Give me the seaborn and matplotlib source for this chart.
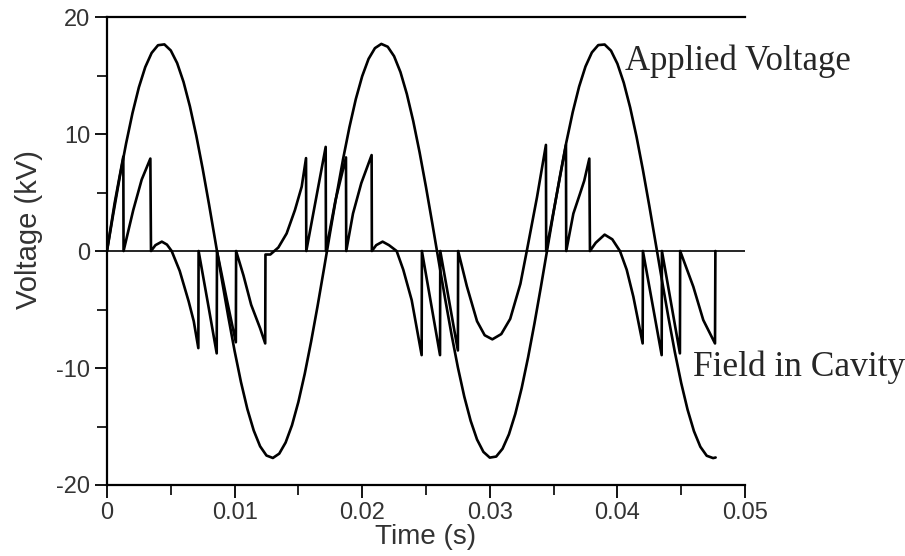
import matplotlib
matplotlib.use("Agg")
import matplotlib.pyplot as plt
import seaborn as sns
import pandas as pd
from matplotlib.ticker import MultipleLocator

# ---------------- data ----------------
applied_t = [0.0, 0.0005, 0.001, 0.0015, 0.002, 0.0025, 0.003, 0.0035, 0.004, 0.0045,
             0.005, 0.0055, 0.006, 0.0065, 0.007, 0.0075, 0.008, 0.0085, 0.009, 0.0095,
             0.010, 0.0105, 0.011, 0.0115, 0.012, 0.0125, 0.013, 0.0135, 0.014, 0.0145,
             0.015, 0.0155, 0.016, 0.0165, 0.017, 0.0175, 0.018, 0.0185, 0.019, 0.0195,
             0.020, 0.0205, 0.021, 0.0215, 0.022, 0.0225, 0.023, 0.0235, 0.024, 0.0245,
             0.025, 0.0255, 0.026, 0.0265, 0.027, 0.0275, 0.028, 0.0285, 0.029, 0.0295,
             0.030, 0.0305, 0.031, 0.0315, 0.032, 0.0325, 0.033, 0.0335, 0.034, 0.0345,
             0.035, 0.0355, 0.036, 0.0365, 0.037, 0.0375, 0.038, 0.0385, 0.039, 0.0395,
             0.040, 0.0405, 0.041, 0.0415, 0.042, 0.0425, 0.043, 0.0435, 0.044, 0.0445,
             0.045, 0.0455, 0.046, 0.0465, 0.047, 0.0475, 0.0477]
applied_v = [0.0, 3.21, 6.31, 9.20, 11.79, 13.99, 15.72, 16.93, 17.59, 17.66,
             17.14, 16.06, 14.45, 12.36, 9.86, 7.03, 3.97, 0.78, -2.44, -5.58,
             -8.53, -11.20, -13.50, -15.34, -16.69, -17.48, -17.69, -17.32, -16.37, -14.89,
             -12.90, -10.49, -7.73, -4.73, -1.56, 1.67, 4.83, 7.84, 10.58, 12.98,
             14.94, 16.42, 17.34, 17.70, 17.46, 16.65, 15.29, 13.42, 11.11, 8.43,
             5.47, 2.33, -0.89, -4.08, -7.13, -9.95, -12.44, -14.51, -16.11, -17.17,
             -17.66, -17.57, -16.90, -15.67, -13.92, -11.71, -9.10, -6.20, -3.10, 0.11,
             3.32, 6.41, 9.30, 11.87, 14.05, 15.77, 16.97, 17.60, 17.65, 17.12,
             16.01, 14.38, 12.27, 9.77, 6.93, 3.86, 0.67, -2.55, -5.68, -8.63,
             -11.28, -13.56, -15.40, -16.73, -17.50, -17.70, -17.65]

field_t = [0.0, 0.0006, 0.00128, 0.0013,
           0.00206, 0.00272, 0.0034, 0.00345,
           0.0038, 0.0043, 0.0047, 0.00507, 0.0057, 0.0064, 0.0068, 0.00716, 0.00718,
           0.0079, 0.0086, 0.00862,
           0.0094, 0.0101, 0.01012,
           0.0107, 0.0113, 0.0120, 0.0124, 0.01242,
           0.0128, 0.01343, 0.01408, 0.01473, 0.01526, 0.0156, 0.01562,
           0.01714, 0.01716,
           0.0179, 0.01873, 0.01875,
           0.01928, 0.01993, 0.02074, 0.02076,
           0.0211, 0.0216, 0.0221, 0.0227, 0.02322, 0.02388, 0.02466, 0.02468,
           0.0261, 0.02612,
           0.0275, 0.02752,
           0.0282, 0.0290, 0.0296, 0.0302, 0.0309, 0.0316, 0.0324, 0.0329, 0.0337, 0.0344, 0.03442,
           0.03597, 0.03599,
           0.03655, 0.03707, 0.0374, 0.0378, 0.03785,
           0.0383, 0.0390, 0.0396, 0.0402, 0.04073, 0.04125, 0.04198, 0.0420,
           0.04347, 0.04349,
           0.0449, 0.04492,
           0.04595, 0.04673, 0.04765, 0.04768]
field_v = [0.0, 4.1, 8.07, 0.0,
           3.5, 6.1, 7.9, 0.0,
           0.5, 0.8, 0.55, 0.0, -1.7, -4.3, -6.0, -8.3, 0.0,
           -4.4, -8.75, 0.0,
           -4.2, -7.8, 0.0,
           -2.1, -4.6, -6.6, -7.9, -0.3,
           -0.3, 0.3, 1.5, 3.5, 5.5, 7.94, 0.0,
           8.9, 0.0,
           4.3, 8.0, 0.0,
           3.2, 5.8, 8.2, 0.0,
           0.5, 0.8, 0.5, 0.0, -1.6, -4.2, -8.9, 0.0,
           -8.9, 0.0,
           -8.5, 0.0,
           -3.0, -6.0, -7.2, -7.55, -7.1, -5.8, -2.8, 0.0, 4.6, 9.07, 0.0,
           9.07, 0.0,
           3.2, 4.9, 6.0, 7.9, 0.0,
           0.7, 1.4, 1.0, 0.0, -1.6, -3.9, -7.9, 0.0,
           -8.9, 0.0,
           -8.75, 0.0,
           -3.05, -5.9, -7.9, 0.0]

x_ticks = [0.0, 0.01, 0.02, 0.03, 0.04, 0.05]
x_tick_labels = ["0", "0.01", "0.02", "0.03", "0.04", "0.05"]
y_ticks = [-20, -10, 0, 10, 20]
y_tick_labels = ["-20", "-10", "0", "10", "20"]

# ---------------- plotting ----------------
sns.set_style("ticks")
plt.rcParams["font.family"] = ["Liberation Sans", "DejaVu Sans"]

fig, ax = plt.subplots(figsize=(9.05, 5.56), dpi=100)
fig.subplots_adjust(left=0.1182, right=0.8232, bottom=0.1277, top=0.9694)

ax.axhline(0, color="black", lw=1.2, zorder=1)

df_applied = pd.DataFrame({"t": applied_t, "v": applied_v})
df_field = pd.DataFrame({"t": field_t, "v": field_v})
sns.lineplot(data=df_applied, x="t", y="v", ax=ax, color="black", lw=1.9,
             sort=False, estimator=None, zorder=3)
sns.lineplot(data=df_field, x="t", y="v", ax=ax, color="black", lw=1.9,
             sort=False, estimator=None, zorder=3)

ax.set_xlim(0, 0.05)
ax.set_ylim(-20, 20)
ax.set_xticks(x_ticks)
ax.set_xticklabels(x_tick_labels)
ax.set_yticks(y_ticks)
ax.set_yticklabels(y_tick_labels)
ax.xaxis.set_minor_locator(MultipleLocator(0.005))
ax.yaxis.set_minor_locator(MultipleLocator(5))

ax.tick_params(axis="both", which="major", direction="out", length=9, width=1.3,
               labelsize=17, colors="black", labelcolor="#333333", pad=3)
ax.tick_params(axis="both", which="minor", direction="out", length=7, width=1.2, colors="black")

for side in ["left", "bottom", "top"]:
    ax.spines[side].set_visible(True)
    ax.spines[side].set_linewidth(1.6)
    ax.spines[side].set_color("black")
ax.spines["right"].set_visible(False)

ax.set_xlabel("Time (s)", fontsize=20, color="#333333", labelpad=0)
ax.set_ylabel("Voltage (kV)", fontsize=21, color="#333333")
ax.yaxis.set_label_coords(-0.1, 0.545)

ax.text(0.0406, 16.2, "Applied Voltage", family=["Liberation Serif", "DejaVu Serif"],
        fontsize=25, ha="left", va="center", clip_on=False)
ax.text(0.0459, -9.9, "Field in Cavity", family=["Liberation Serif", "DejaVu Serif"],
        fontsize=25.5, ha="left", va="center", clip_on=False)

fig.savefig("out.png", dpi=100, facecolor="white")
